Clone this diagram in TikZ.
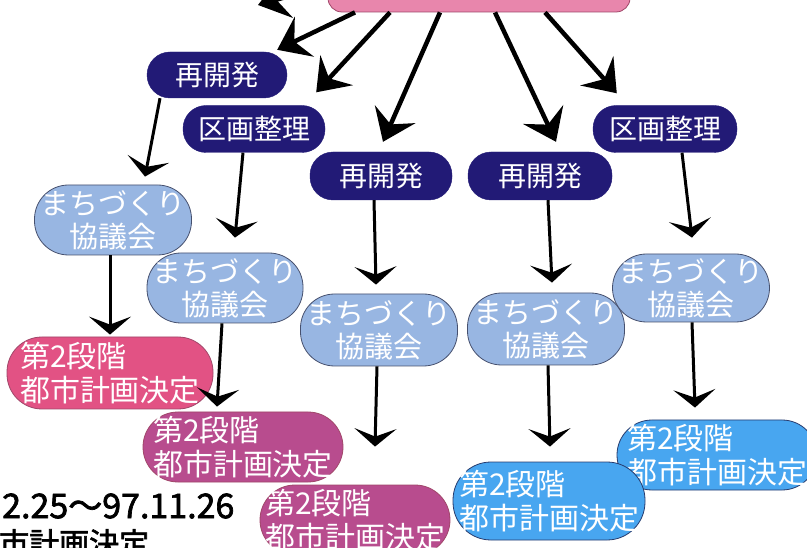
\documentclass[tikz,border=0pt]{standalone}
\usepackage{fontspec}
\newfontfamily\jp{Noto Sans CJK JP}
\newfontfamily\jpb[FakeBold=2]{Noto Sans CJK JP}
\usetikzlibrary{arrows.meta}
\definecolor{navy}{RGB}{34,26,118}
\definecolor{topPink}{RGB}{232,134,172}
\definecolor{topPinkLine}{RGB}{160,70,105}
\definecolor{lightBlue}{RGB}{152,182,226}
\definecolor{lightBlueLine}{RGB}{70,80,110}
\definecolor{hotPink}{RGB}{226,82,132}
\definecolor{plum}{RGB}{184,76,142}
\definecolor{sky}{RGB}{72,166,240}
\definecolor{skyLine}{RGB}{40,60,110}
\tikzset{
  navybox/.style={fill=navy, draw=navy, rounded corners=23pt, minimum width=142pt, minimum height=47pt,
    inner sep=0pt, text=white, font=\jp\fontsize{28}{30}\selectfont},
  bluebox/.style={fill=lightBlue, draw=lightBlueLine, line width=0.8pt, rounded corners=34pt,
    minimum width=157pt, minimum height=70pt, inner sep=0pt, text=white, align=center,
    font=\jp\fontsize{29}{33}\selectfont},
  stagebox/.style={draw=skyLine, line width=0.8pt, rounded corners=35pt,
    minimum height=70pt, inner sep=0pt, text=white, align=left,
    font=\jp\fontsize{30}{34}\selectfont},
  bigarr/.style={line width=4.5pt, -{Stealth[length=30pt,width=44pt,inset=11pt]}},
  arr/.style={line width=3pt, -{Stealth[length=18pt,width=42pt,inset=8pt]}},
  blacktext/.style={anchor=west, inner sep=0pt, text=black}
}
\begin{document}
\begin{tikzpicture}[x=1pt,y=-1pt]
\useasboundingbox (0,0) rectangle (807,548);
\clip (0,0) rectangle (807,548);
\fill[white] (0,0) rectangle (807,548);

% top box
\node[fill=topPink, draw=topPinkLine, line width=0.8pt, rounded corners=14pt,
      minimum width=302pt, minimum height=54pt] (top) at (479,-15) {};
\coordinate (offl) at (258,5);

% navy nodes
\node[navybox, minimum width=140pt, minimum height=46pt] (n1) at (217,75) {再開発};
\node[navybox] (n2) at (254,129) {区画整理};
\node[navybox, minimum height=48pt] (n3) at (381,176) {再開発};
\node[navybox, minimum height=48pt, minimum width=144pt] (n4) at (540,176) {再開発};
\node[navybox, minimum width=144pt] (n5) at (665,129) {区画整理};

% blue nodes
\node[bluebox] (b1) at (113,220) {まちづくり\\協議会};
\node[bluebox, minimum width=156pt] (b2) at (225,288) {まちづくり\\協議会};
\node[bluebox, minimum height=72pt] (b3) at (379,330) {まちづくり\\協議会};
\node[bluebox, minimum height=72pt] (b4) at (546,329) {まちづくり\\協議会};
\node[bluebox, minimum height=68pt] (b5) at (691,288) {まちづくり\\協議会};

% stage nodes
\node[stagebox, fill=hotPink, draw=topPinkLine, minimum width=206pt, minimum height=72pt] (p1) at (110,373) {第2段階\\都市計画決定};
\node[stagebox, fill=plum, draw=topPinkLine, minimum width=200pt] (p2) at (243,447) {第2段階\\都市計画決定};
\node[stagebox, fill=plum, draw=topPinkLine, minimum width=190pt] (p3) at (355,520) {第2段階\\都市計画決定};
\node[stagebox, fill=sky, minimum width=200pt] (p5) at (717,455) {第2段階\\都市計画決定};
\node[stagebox, fill=sky, minimum width=192pt, minimum height=78pt, rounded corners=38pt] (p4) at (549,501) {第2段階\\都市計画決定};

% arrows from the top box
\draw[bigarr] (top.west) -- (offl);
\draw[bigarr] ([xshift=-124pt]top.south) -- ([xshift=-10pt,yshift=2pt]n1.north east);
\draw[bigarr] ([xshift=-89pt]top.south) -- ([xshift=-9pt,yshift=13pt]n2.north east);
\draw[bigarr] ([xshift=-39pt]top.south) -- ([xshift=2pt,yshift=10pt]n3.north);
\draw[bigarr] ([xshift=16pt]top.south) -- ([xshift=16pt,yshift=10pt]n4.north);
\draw[bigarr] ([xshift=66pt]top.south) -- ([xshift=24pt,yshift=12pt]n5.north west);

% arrows to the councils
\draw[arr] ([xshift=-57pt]n1.south) -- ([xshift=32pt,yshift=8pt]b1.north);
\draw[arr] ([xshift=-11pt]n2.south) -- ([xshift=10pt,yshift=15pt]b2.north);
\draw[arr] ([xshift=-7pt]n3.south) -- ([xshift=-3pt,yshift=9pt]b3.north);
\draw[arr] ([xshift=8pt]n4.south) -- ([xshift=6pt,yshift=10pt]b4.north);
\draw[arr] ([xshift=17pt]n5.south) -- ([xshift=1pt,yshift=16pt]b5.north);

% arrows to the stage decisions
\draw[arr] ([xshift=-3pt]b1.south) -- ([yshift=2pt]p1.north);
\draw[arr] ([xshift=-3pt]b2.south) -- ([xshift=-26pt,yshift=5pt]p2.north);
\draw[arr] ([xshift=-2pt]b3.south) -- ([xshift=20pt,yshift=38pt]p3.north);
\draw[arr] ([xshift=2pt]b4.south) -- ([xshift=1pt,yshift=15pt]p4.north);
\draw[arr] ([xshift=1pt]b5.south) -- ([xshift=-22pt,yshift=12pt]p5.north);

% bottom-left text
\node[blacktext, font=\jpb\fontsize{34}{34}\selectfont] (date) at (2,506) {2.25〜97.11.26};
\node[blacktext, font=\jpb\fontsize{30}{30}\selectfont] (kettei) at (-1,543) {市計画決定};
\end{tikzpicture}
\end{document}
